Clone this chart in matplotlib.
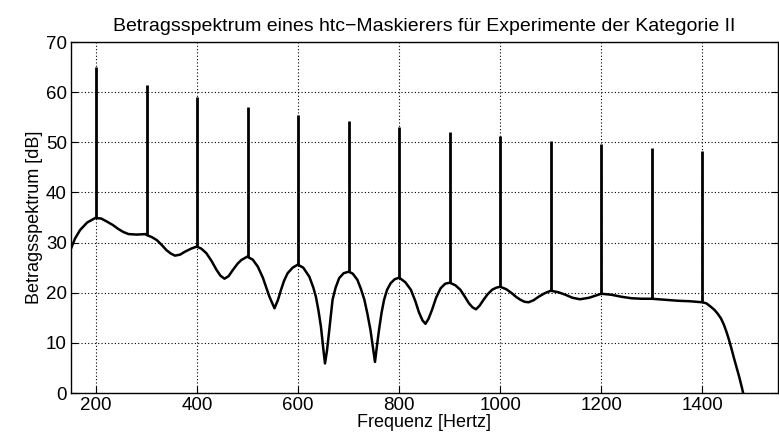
import numpy as np
import matplotlib
matplotlib.use("Agg")
import matplotlib.pyplot as plt

# envelope of the masker spectrum (Hz, dB)
env_f = [150, 158, 168, 182, 198, 210, 221, 233, 244, 254, 264, 280, 299, 300,
         310, 320, 330, 339, 348, 356, 366, 376, 388, 399, 408, 418, 428, 438,
         446, 454, 462, 471, 480, 487, 499, 510, 520, 530, 543, 553, 560, 566,
         572, 579, 589, 599, 610, 622, 630, 635, 640, 645, 650, 653, 657, 660,
         664, 668, 674, 681, 690, 700, 708, 717, 724, 731, 737, 743, 748, 752,
         756, 760, 765, 770, 776, 783, 791, 800, 812, 823, 832, 839, 846, 852,
         858, 865, 873, 882, 891, 900, 911, 921, 930, 938, 945, 952, 959, 967,
         975, 984, 992, 1000, 1012, 1023, 1031, 1040, 1048, 1056, 1066, 1076,
         1088, 1100, 1115, 1129, 1143, 1158, 1176, 1194, 1200, 1220, 1240, 1260,
         1280, 1300, 1326, 1352, 1376, 1400, 1408, 1417, 1424, 1430, 1437, 1443,
         1448, 1453, 1458, 1463, 1468, 1473, 1478, 1481, 1486]
env_db = [28.8, 30.8, 32.5, 34.0, 34.9, 34.8, 34.2, 33.5, 32.7, 32.1, 31.7, 31.6, 31.7, 31.5,
          31.1, 30.5, 29.5, 28.5, 27.8, 27.4, 27.6, 28.2, 28.8, 29.2, 28.8, 27.9, 26.4, 24.6,
          23.4, 22.8, 23.3, 24.6, 25.8, 26.5, 27.2, 26.6, 25.2, 23.0, 19.2, 16.9, 18.6, 20.6,
          22.4, 23.9, 25.0, 25.6, 25.0, 23.2, 21.0, 19.2, 16.5, 13.2, 8.5, 5.9, 8.5, 11.2,
          15.0, 18.6, 21.0, 22.9, 23.9, 24.2, 23.8, 22.6, 20.8, 18.6, 15.8, 12.6, 9.0, 6.2,
          9.5, 12.6, 16.0, 18.6, 20.6, 21.9, 22.7, 23.0, 22.1, 20.6, 18.3, 16.1, 14.5, 13.8,
          14.8, 16.6, 19.0, 20.9, 21.8, 22.0, 21.5, 20.6, 19.2, 17.9, 17.1, 16.7, 17.4, 18.6,
          19.7, 20.6, 21.0, 21.2, 20.7, 19.9, 19.2, 18.6, 18.2, 18.1, 18.5, 19.2,
          19.9, 20.4, 20.1, 19.6, 19.0, 18.7, 19.0, 19.6, 19.8, 19.6, 19.2, 18.9,
          18.8, 18.8, 18.6, 18.4, 18.3, 18.1, 17.9, 17.2, 16.6, 15.9, 14.9, 13.6,
          12.2, 10.6, 8.8, 6.9, 5.1, 3.3, 1.3, 0.0, -2.0]

# harmonic components
harm_f = [200, 300, 400, 500, 600, 700, 800, 900, 1000, 1100, 1200, 1300, 1400]
harm_base = [34.9, 31.6, 29.2, 27.2, 25.6, 24.2, 23.0, 22.0, 21.2, 20.4, 19.8, 18.8, 18.1]
harm_peak = [65.1, 61.5, 59.0, 57.1, 55.5, 54.2, 53.0, 52.0, 51.2, 50.2, 49.7, 48.8, 48.3]

plt.rcParams['font.family'] = ['Liberation Sans', 'DejaVu Sans']

fig = plt.figure(figsize=(7.79, 4.38), dpi=100)
ax = fig.add_axes([0.0911, 0.1027, 0.9076, 0.8013])

ax.plot(env_f, env_db, color='black', lw=1.8, solid_joinstyle='round')
ax.vlines(harm_f, harm_base, harm_peak, color='black', lw=2.0)

ax.set_xlim(150, 1550)
ax.set_ylim(0, 70)
ax.set_xticks(np.arange(200, 1401, 200))
ax.set_yticks(np.arange(0, 71, 10))
ax.grid(True, color='black', linestyle=(0, (1, 2)), lw=0.8)
ax.tick_params(direction='in', labelsize=13.5, top=False, right=True, length=5, width=0.8,
               pad=3)
for s in ax.spines.values():
    s.set_linewidth(1.0)

ax.set_title("Betragsspektrum eines htc\u2212Maskierers für Experimente der Kategorie II",
             fontsize=14, pad=8)
ax.set_xlabel("Frequenz [Hertz]", fontsize=13, labelpad=0)
ax.set_ylabel("Betragsspektrum [dB]", fontsize=13, labelpad=2)

fig.savefig("out.png", dpi=100)
